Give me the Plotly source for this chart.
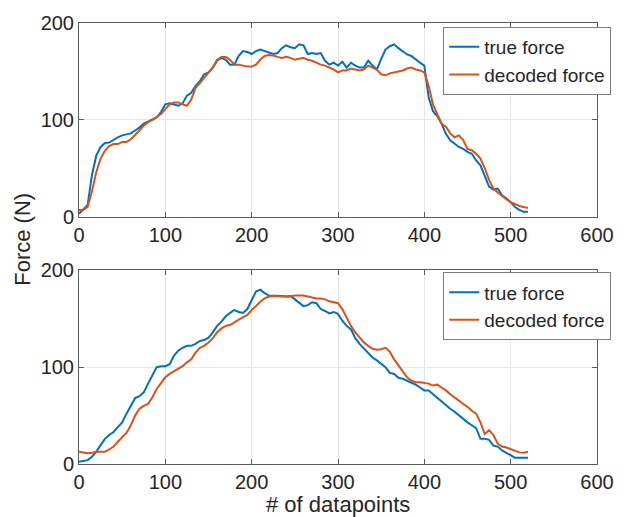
import plotly.graph_objects as go

# x positions (# of datapoints)
datapoints = list(range(0, 521, 5))

# Top panel
true_force_1 = [3, 7, 12, 43, 63, 72, 76, 76.5, 79.6, 82, 84, 85, 86, 89, 92, 96, 98, 100, 102.5, 108,
                116, 117, 116, 114.5, 117, 125, 128, 135, 140, 147, 149, 154, 161, 164, 162, 157, 157, 166, 171, 170,
                168, 171, 172.6, 171, 169, 168, 169, 174, 177, 175, 174, 178, 177, 168, 169, 168, 169, 161, 157, 159,
                156, 160, 154, 159, 156, 154, 154, 161, 156, 152, 163, 172.6, 176, 178, 174, 171, 167.5, 166, 162, 159,
                156, 123, 109, 104, 96, 85.6, 78.8, 75, 72, 70, 67, 65, 58, 53, 41, 31, 28, 29, 22, 19,
                15, 10, 7, 5, 5]
decoded_force_1 = [7, 7, 10, 26, 46, 60, 68, 73, 75, 75, 77, 77, 80, 84, 89, 94, 97.6, 100, 102.6, 106,
                   111, 116, 118, 118, 116, 114.5, 121, 133, 138, 143, 149, 154, 162, 165, 165, 162, 157, 157, 156, 155,
                   155, 157, 162, 166, 167, 166.5, 165, 164, 165, 164, 162, 163, 164, 162, 161, 159, 157, 156, 154, 152,
                   149, 151, 151, 153, 152, 151, 152, 156, 154, 152, 147, 146, 148, 149, 150, 151, 153, 154, 152, 151,
                   149, 135, 116, 106, 96, 93, 86, 82, 84, 79, 70, 68.6, 65, 60, 50, 38, 29, 25, 21, 18,
                   15, 13, 11, 10, 9]

# Bottom panel
true_force_2 = [2.4, 3, 4, 7.5, 12.5, 19.5, 26, 30, 33, 38, 43, 52, 60, 68, 70, 74, 83, 91, 100, 101,
                101, 103, 112, 117, 120, 122, 122, 124, 127, 128, 130.5, 136, 142.6, 147, 152.5, 156, 159, 157, 156, 160,
                169, 178, 180, 176.5, 174, 174, 174, 173.5, 173, 173.5, 170, 166, 163, 164, 167, 166, 160, 158, 155.5, 157,
                155, 148, 142.6, 139, 130, 124, 119, 114, 110, 107, 103, 100, 94, 93, 89, 88, 86, 84, 82, 79,
                76, 76, 72, 69, 64, 60.5, 57, 54, 50, 47, 43, 40, 37, 26, 26, 25, 19, 18, 14, 11.6,
                8.6, 6.5, 6.5, 6.5, 6.5]
decoded_force_2 = [12.6, 11.6, 11, 11.6, 12.6, 12.6, 12.6, 15, 18, 23, 28, 32, 40, 50, 57, 60, 62, 69, 77.5, 84,
                   89.5, 93, 95.5, 98, 101, 105, 108, 115, 120, 122, 125.5, 130, 136, 140, 142.6, 143.5, 146.5, 149, 151.5, 154,
                   159, 163.5, 167.5, 171, 173, 173.5, 173, 173, 173, 173, 174, 174, 174, 173, 171.6, 171, 171, 170, 168, 167,
                   166, 160, 151, 142.6, 136, 131, 125.5, 122, 119, 118, 118.6, 120, 116, 108, 101.5, 95, 89.5, 86, 84.5, 84.5,
                   84, 83, 81, 82, 79, 76, 72, 69, 65.5, 62, 59, 55, 52, 43, 31, 35, 30, 21, 18, 17,
                   15.6, 13.5, 12, 11.6, 12.6]

x_ticks = [0, 100, 200, 300, 400, 500, 600]
y_ticks = [0, 100, 200]

BLUE = "#0072BD"
ORANGE = "#D95319"
FONT = "Liberation Sans, Arial, sans-serif"
TXT = "#262626"

fig = go.Figure()
fig.add_trace(go.Scatter(x=datapoints, y=true_force_1, mode="lines", name="true force",
                         line=dict(color=BLUE, width=2), xaxis="x", yaxis="y", legend="legend"))
fig.add_trace(go.Scatter(x=datapoints, y=decoded_force_1, mode="lines", name="decoded force",
                         line=dict(color=ORANGE, width=2), xaxis="x", yaxis="y", legend="legend"))
fig.add_trace(go.Scatter(x=datapoints, y=true_force_2, mode="lines", name="true force",
                         line=dict(color=BLUE, width=2), xaxis="x2", yaxis="y2", legend="legend2"))
fig.add_trace(go.Scatter(x=datapoints, y=decoded_force_2, mode="lines", name="decoded force",
                         line=dict(color=ORANGE, width=2), xaxis="x2", yaxis="y2", legend="legend2"))

axis_common = dict(showline=True, linecolor="#5a5a5a", linewidth=1, mirror="ticks",
                   ticks="inside", ticklen=5, tickcolor="#5a5a5a",
                   showgrid=True, gridcolor="#e6e6e6", gridwidth=1, zeroline=False,
                   tickfont=dict(family=FONT, size=20, color=TXT))

H = 444.0
top_lo = (464 - 215) / H
bot_hi = (464 - 269) / H

legend_common = dict(bgcolor="white", bordercolor="#7f7f7f", borderwidth=1,
                     font=dict(family=FONT, size=19, color=TXT),
                     xanchor="left", yanchor="top", itemwidth=30, tracegroupgap=0)

fig.update_layout(
    width=626, height=517,
    margin=dict(l=79, r=18, t=20, b=53),
    paper_bgcolor="white", plot_bgcolor="white",
    font=dict(family=FONT, color=TXT),
    xaxis=dict(domain=[0, 1], range=[0, 600], tickvals=x_ticks, anchor="y", **axis_common),
    yaxis=dict(domain=[top_lo, 1], range=[0, 200], tickvals=y_ticks, anchor="x", **axis_common),
    xaxis2=dict(domain=[0, 1], range=[0, 600], tickvals=x_ticks, anchor="y2", **axis_common),
    yaxis2=dict(domain=[0, bot_hi], range=[0, 200], tickvals=y_ticks, anchor="x2", **axis_common),
    legend=dict(x=(451 - 79) / 529, y=(464 - 24) / H, **legend_common),
    legend2=dict(x=(451 - 79) / 529, y=(464 - 271) / H, **legend_common),
    annotations=[
        dict(text="# of datapoints", x=0.5, y=(464 - 505) / H, xref="paper", yref="paper",
             xanchor="center", yanchor="middle", showarrow=False,
             font=dict(family=FONT, size=22, color=TXT)),
        dict(text="Force (N)", x=(21 - 79) / 529, y=(464 - 238) / H, xref="paper", yref="paper",
             xanchor="center", yanchor="middle", textangle=-90, showarrow=False,
             font=dict(family=FONT, size=22, color=TXT)),
    ],
)

fig.write_html("out.html")
